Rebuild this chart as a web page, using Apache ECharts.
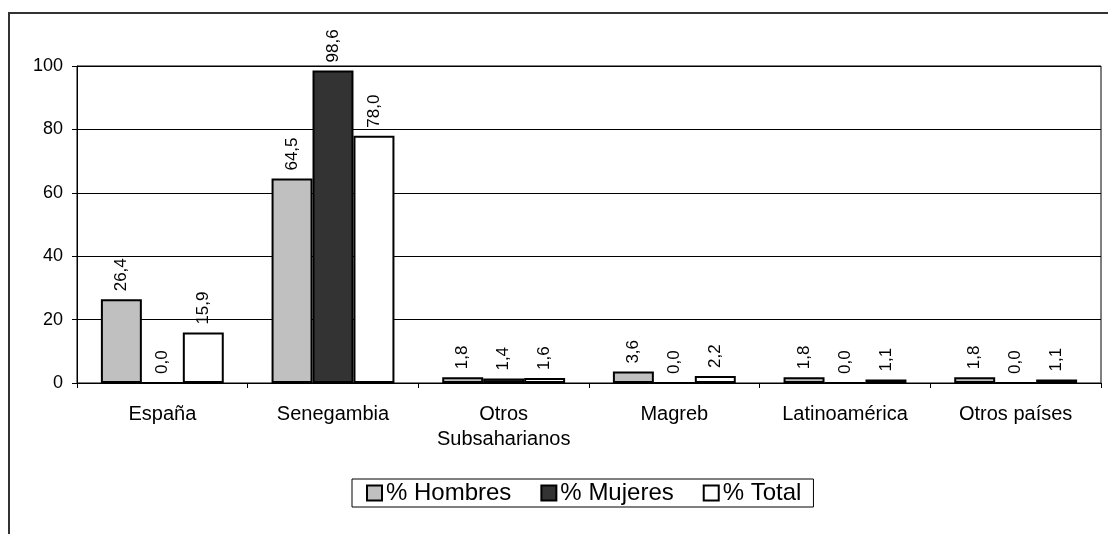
<!DOCTYPE html>
<html><head><meta charset="utf-8">
<script src="https://cdn.jsdelivr.net/npm/echarts@6/dist/echarts.min.js"></script>
<style>html,body{margin:0;padding:0;background:#fff}#c{width:1108px;height:534px}</style>
</head><body><div id="c"></div>
<script>
const categories = ["España", "Senegambia", "Otros\nSubsaharianos", "Magreb", "Latinoamérica", "Otros países"];
const hombres = [26.4, 64.5, 1.8, 3.6, 1.8, 1.8];
const mujeres = [0.0, 98.6, 1.4, 0.0, 0.0, 0.0];
const total = [15.9, 78.0, 1.6, 2.2, 1.1, 1.1];
const seriesNames = ["% Hombres", "% Mujeres", "% Total"];
const yTicks = [0, 20, 40, 60, 80, 100];

const FONT = '"Liberation Sans", Arial, sans-serif';
const fmt = p => p.value.toFixed(1).replace('.', ',');
function mk(name, data, color) {
  return {
    name, type: 'bar', data,
    barGap: '0%', barCategoryGap: '28%',
    itemStyle: { color, borderColor: '#000', borderWidth: 2 },
    label: { show: true, position: 'top', rotate: 90, align: 'left', verticalAlign: 'middle',
      distance: 8, formatter: fmt, fontFamily: FONT, fontSize: 17, color: '#000' }
  };
}
const chart = echarts.init(document.getElementById('c'), null, { renderer: 'canvas' });
chart.setOption({
  animation: false,
  backgroundColor: '#fff',
  textStyle: { fontFamily: FONT },
  graphic: [{ type: 'rect', shape: { x: 9, y: 13, width: 1200, height: 600 },
    style: { fill: 'none', stroke: '#333', lineWidth: 2 }, silent: true }],
  grid: { left: 77, right: 7, top: 66, bottom: 151, show: true, borderColor: '#000', borderWidth: 1 },
  legend: {
    left: 352, top: 479, padding: [2, 12, 2, 14], itemGap: 29, itemWidth: 15, itemHeight: 15,
    borderColor: '#000', borderWidth: 1, icon: 'rect',
    textStyle: { fontFamily: FONT, fontSize: 24, lineHeight: 24, color: '#000', padding: [0, 0, 0, -1] },
    data: seriesNames
  },
  xAxis: {
    type: 'category', data: categories,
    axisLine: { lineStyle: { color: '#000', width: 1 } },
    axisTick: { show: true, length: 5, lineStyle: { color: '#000' } },
    axisLabel: { fontFamily: FONT, fontSize: 20, color: '#000', margin: 19, lineHeight: 25, interval: 0 }
  },
  yAxis: {
    type: 'value', min: 0, max: 100, interval: 20,
    axisLine: { show: true, lineStyle: { color: '#000' } },
    axisTick: { show: true, length: 5, lineStyle: { color: '#000' } },
    splitLine: { show: true, lineStyle: { color: '#000', width: 1 } },
    axisLabel: { fontFamily: FONT, fontSize: 18, color: '#000', margin: 14,
      formatter: v => yTicks.includes(v) ? String(v) : '' }
  },
  series: [
    mk(seriesNames[0], hombres, '#c0c0c0'),
    mk(seriesNames[1], mujeres, '#333333'),
    mk(seriesNames[2], total, '#ffffff')
  ]
});
</script></body></html>
